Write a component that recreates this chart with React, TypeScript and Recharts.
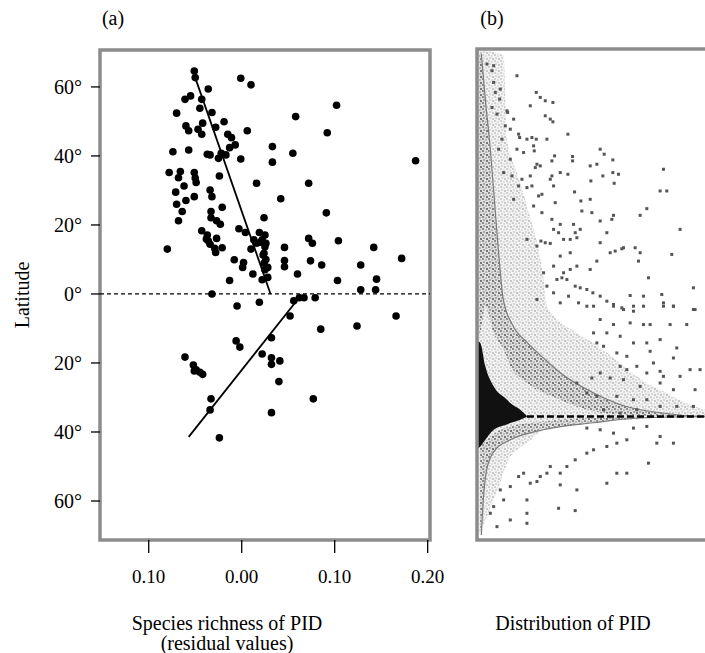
import {
  ComposedChart,
  Scatter,
  Line,
  Area,
  XAxis,
  YAxis,
  ReferenceLine,
  ReferenceArea,
} from "recharts";

// panel (a): residual species richness of PID against latitude
const northSites: [number, number][] = [
  [-0.051, 64.6], [-0.05, 62.7], [-0.001, 62.5], [0.01, 60.6], [-0.036, 59.4],
  [-0.061, 56.4], [-0.055, 57.4], [-0.043, 56.4], [0.102, 54.7], [-0.045, 53.8],
  [-0.07, 52.4], [-0.032, 52.6], [0.058, 51.4], [-0.019, 49.9], [-0.042, 49.5],
  [-0.06, 48.7], [-0.028, 48.3], [-0.057, 47.3], [-0.047, 47.7], [-0.043, 46.3],
  [0.006, 47.3], [0.092, 46.7], [-0.015, 46.3], [-0.011, 45.3], [-0.007, 43.2],
  [-0.013, 42.4], [0.033, 42.7], [-0.074, 41.2], [-0.057, 41.7], [-0.037, 40.5],
  [-0.034, 40.3], [-0.025, 39.3], [-0.022, 40.8], [-0.017, 40.3], [-0.001, 39.1],
  [0.055, 40.8], [0.033, 38.2], [0.187, 38.6], [-0.078, 35.2], [-0.066, 35.5],
  [-0.068, 33.7], [-0.051, 35.2], [-0.05, 33.6], [-0.049, 32.3], [-0.062, 31.3],
  [-0.024, 34.2], [0.016, 32.1], [0.072, 32.1], [-0.071, 29.5], [-0.034, 30.1],
  [-0.032, 28.2], [-0.051, 28.2], [-0.06, 27.1], [0.042, 27.6], [-0.07, 26.0],
  [-0.064, 23.9], [-0.021, 25.1], [-0.033, 23.9], [-0.068, 21.2], [-0.033, 22.1],
  [-0.027, 21.2], [-0.023, 20.2], [0.024, 22.1], [0.091, 23.5], [-0.043, 18.3],
  [-0.037, 17.1], [-0.038, 15.9], [-0.003, 18.9], [0.004, 17.8], [-0.036, 15.4],
  [-0.027, 16.1], [0.013, 15.7], [0.019, 17.8], [0.025, 17.1], [0.022, 15.7],
  [0.026, 14.7], [0.016, 14.7], [-0.034, 14.4], [-0.029, 13.2], [-0.028, 12.0],
  [-0.021, 13.4], [-0.08, 13.0], [0.01, 13.0], [0.02, 15.0], [0.025, 13.7],
  [0.024, 11.8], [0.046, 13.5], [0.072, 16.1], [0.076, 14.7], [0.104, 15.4],
  [0.142, 13.5], [-0.008, 9.9], [0.002, 9.1], [0.001, 7.7], [0.012, 5.8],
  [0.023, 11.3], [0.026, 10.0], [0.024, 8.9], [0.025, 7.0], [0.028, 7.7],
  [0.046, 9.7], [0.046, 7.9], [0.06, 5.8], [0.074, 9.6], [0.086, 8.4],
  [0.128, 8.4], [0.172, 10.3], [-0.013, 3.9], [0.022, 4.1], [0.028, 4.8],
  [0.103, 3.9], [0.145, 4.3], [0.128, 1.2], [0.144, 1.2], [-0.032, 0.0],
];

const southSites: [number, number][] = [
  [-0.005, -3.5], [0.019, -2.4], [0.056, -2.0], [0.062, -1.1], [0.067, -1.1],
  [0.079, -1.1], [0.052, -6.4], [0.166, -6.4], [0.085, -10.2], [0.124, -9.3],
  [0.032, -12.7], [-0.006, -13.6], [-0.002, -15.4], [-0.061, -18.3], [-0.052, -20.6],
  [-0.049, -22.0], [-0.045, -22.7], [-0.042, -23.3], [-0.051, -22.3], [0.022, -17.4],
  [0.032, -18.5], [0.032, -20.4], [0.041, -19.4], [0.04, -25.4], [-0.033, -30.4],
  [-0.034, -33.6], [0.032, -34.4], [0.077, -30.4], [-0.024, -41.7],
];

const northFit: [number, number][] = [[-0.05, 62.7], [0.031, 0]];
const southFit: [number, number][] = [[-0.057, -41.4], [0.064, -0.3]];

const latTicks = [60, 40, 20, 0, -20, -40, -60];
const richTicks = [-0.1, 0, 0.1, 0.2];

// panel (b): distribution of PID (unitless plot space, no axes shown)
const upperCurve: [number, number][] = [
  [13, 1455], [25, 1320], [40, 1170], [52, 1020], [64, 870], [79, 720], [106, 645],
  [151, 591], [205, 540], [250, 501], [349, 441], [451, 399], [550, 381], [685, 369], [850, 366],
];
const lowerCurve: [number, number][] = [
  [13, 15], [19, 120], [31, 219], [55, 270], [100, 300], [199, 330], [349, 351],
  [499, 366], [685, 369], [850, 369],
];
// [x, low, high]
const lightBand: [number, number, number][] = [
  [4, 10, 1470], [50, 120, 1460], [80, 200, 1450], [90, 230, 1200], [120, 270, 1100],
  [150, 290, 1000], [200, 330, 780], [210, 333, 700], [300, 345, 620], [350, 355, 590],
  [510, 363, 470], [550, 367, 450], [685, 369, 390], [850, 369, 372],
];
const upperMidBand: [number, number, number][] = [
  [4, 590, 1470], [15, 650, 1420], [25, 700, 1320], [50, 620, 1000], [80, 570, 720],
  [100, 520, 650], [150, 470, 591], [200, 440, 545], [250, 420, 501], [300, 400, 470],
  [350, 385, 441], [450, 375, 399], [550, 372, 381], [685, 370, 370],
];
const lowerMidBand: [number, number, number][] = [
  [10, 20, 280], [30, 219, 300], [55, 270, 320], [100, 300, 340], [200, 330, 355],
  [350, 351, 365], [500, 366, 369], [685, 369, 370],
];
const denseCore: [number, number, number][] = [
  [3, 275, 595], [10, 280, 590], [25, 300, 520], [50, 330, 460], [90, 346, 420],
  [100, 350, 410], [130, 360, 390], [150, 369, 371],
];
const scatterPID: [number, number][] = [
  [30, 1425], [50, 1420], [45, 1405], [50, 1370], [55, 1340], [70, 1350], [68, 1320],
  [45, 1295], [60, 1275], [90, 1285],
  [120, 1390], [178, 1340], [190, 1325], [205, 1315], [228, 1310], [160, 1300], [205, 1270],
  [220, 1260], [228, 1252], [273, 1215], [92, 1280], [110, 1260], [85, 1240], [100, 1230],
  [125, 1215], [128, 1205], [150, 1200], [165, 1205], [178, 1200], [210, 1200], [75, 1200],
  [65, 1170], [120, 1170], [140, 1160], [170, 1180], [172, 1165], [370, 1170], [382, 1155],
  [287, 1148], [287, 1135], [233, 1150], [225, 1135], [408, 1138], [360, 1125], [180, 1125],
  [190, 1120], [175, 1115], [340, 1120], [100, 1140], [160, 1090], [225, 1090], [220, 1080],
  [250, 1100], [273, 1095], [408, 1100], [425, 1095], [412, 1068], [342, 1075], [378, 1090],
  [560, 1110], [80, 1100], [105, 1090], [135, 1080], [125, 1060], [150, 1055], [165, 1060],
  [110, 1020], [185, 1030], [195, 1035], [293, 1042], [230, 1060], [550, 1045], [570, 1045],
  [170, 1000], [195, 980], [235, 1010], [312, 1015], [340, 1020], [315, 985], [345, 980],
  [510, 992], [490, 972], [410, 972], [405, 960], [370, 955], [290, 945], [310, 930],
  [295, 920], [300, 905], [250, 945], [225, 960], [230, 930], [245, 920], [260, 900],
  [280, 900], [192, 895], [205, 890], [220, 888], [150, 900], [180, 880], [390, 920],
  [370, 890], [400, 860], [415, 865], [435, 872], [440, 875], [475, 875], [490, 860],
  [485, 835], [610, 930], [585, 855], [280, 860], [250, 850], [360, 835], [340, 810],
  [300, 820], [280, 810], [260, 800], [230, 820], [240, 780], [255, 785], [270, 780],
  [295, 760], [310, 755], [330, 750], [348, 740], [370, 730], [390, 715], [410, 700],
  [435, 695], [460, 732], [500, 730], [470, 700], [515, 785], [555, 735], [560, 700],
  [590, 700], [650, 755], [655, 690], [200, 800], [210, 760], [230, 740], [250, 710],
  [275, 730], [305, 710], [330, 700], [180, 720], [350, 700], [410, 705], [440, 690],
  [470, 685], [500, 700], [560, 710], [590, 700], [650, 690], [370, 660], [410, 645],
  [460, 650], [500, 645], [520, 645], [580, 645], [630, 645], [350, 620], [390, 620],
  [430, 610], [470, 590], [510, 590], [550, 600], [600, 575], [360, 590], [380, 580],
  [420, 560], [450, 550], [520, 565], [590, 545], [670, 510], [640, 510], [430, 520],
  [450, 510], [480, 520], [530, 530], [550, 505], [510, 500], [560, 490], [610, 490],
  [655, 450], [590, 450], [550, 470], [490, 460], [440, 480], [400, 485], [370, 500],
  [345, 485], [300, 470], [330, 440], [360, 430], [420, 430], [470, 420], [510, 420],
  [550, 400], [600, 400], [650, 400], [380, 390], [430, 380], [480, 390], [330, 335],
  [370, 330], [410, 320], [470, 335], [510, 340], [550, 310], [590, 290], [540, 290],
  [450, 300], [420, 290], [390, 280], [350, 270], [330, 260], [295, 240], [270, 220],
  [250, 200], [220, 220], [210, 200], [190, 190], [180, 175], [160, 170], [140, 200],
  [125, 190], [100, 160], [80, 120], [150, 120], [150, 80], [150, 50], [100, 60],
  [245, 95], [295, 88], [300, 150], [250, 165], [420, 200], [450, 200], [390, 170],
  [515, 230], [70, 150], [50, 100], [40, 80], [60, 40],
];

const FONT = "'Liberation Serif', 'Times New Roman', serif";
const FRAME = "#8c8c8c";

const toXY = (rows: [number, number][]) => rows.map(([x, y]) => ({ x, y }));
const toBand = (rows: [number, number, number][]) =>
  rows.map(([x, lo, hi]) => ({ x, band: [lo, hi] }));

const BigDot = (p: any) => <circle cx={p.cx} cy={p.cy} r={3.8} fill="#000" />;
const Speck = (p: any) => (
  <rect x={p.cx - 1.5} y={p.cy - 1.5} width={3} height={3} fill="#555" />
);

const xDom: [number, number] = [-0.1524, 0.2025];
const yDom: [number, number] = [-71.3, 70.7];

function PanelA() {
  return (
    <ComposedChart width={460} height={653} margin={{ top: 50, right: 30, bottom: 73, left: 40 }}>
      <XAxis
        type="number"
        dataKey="x"
        domain={xDom}
        ticks={richTicks}
        allowDataOverflow
        tickFormatter={(v: number) => Math.abs(v).toFixed(2)}
        axisLine={false}
        tickSize={13}
        tickMargin={17}
        height={40}
        tickLine={{ stroke: "#000", strokeWidth: 1.3 }}
        tick={{ fill: "#000", fontSize: 19, fontFamily: FONT }}
      />
      <YAxis
        type="number"
        dataKey="y"
        domain={yDom}
        ticks={latTicks}
        allowDataOverflow
        tickFormatter={(v: number) => `${Math.abs(v)}°`}
        axisLine={false}
        tickSize={9}
        tickMargin={9}
        width={60}
        tickLine={{ stroke: "#000", strokeWidth: 1.3 }}
        tick={{ fill: "#000", fontSize: 20, fontFamily: FONT }}
      />
      <ReferenceArea
        x1={xDom[0]} x2={xDom[1]} y1={yDom[0]} y2={yDom[1]}
        fill="none" fillOpacity={0} stroke={FRAME} strokeWidth={3.5} ifOverflow="visible"
      />
      <ReferenceLine y={0} stroke="#000" strokeWidth={1.3} strokeDasharray="4 3" />
      <Scatter data={toXY(northSites)} shape={BigDot} isAnimationActive={false} />
      <Scatter data={toXY(southSites)} shape={BigDot} isAnimationActive={false} />
      <Line data={toXY(northFit)} dataKey="y" type="linear" stroke="#000" strokeWidth={1.8} dot={false} activeDot={false} isAnimationActive={false} />
      <Line data={toXY(southFit)} dataKey="y" type="linear" stroke="#000" strokeWidth={1.8} dot={false} activeDot={false} isAnimationActive={false} />
    </ComposedChart>
  );
}

function PanelB() {
  return (
    <ComposedChart width={340} height={653} margin={{ top: 49, right: 20, bottom: 113, left: 37 }}>
      <defs>
        <pattern id="specLight" width="6" height="6" patternUnits="userSpaceOnUse">
          <rect x="0" y="0" width="6" height="6" fill="#f3f3f3" />
          <rect x="0" y="0" width="2" height="2" fill="#d0d0d0" />
          <rect x="3" y="1" width="2" height="2" fill="#dedede" />
          <rect x="1" y="3" width="2" height="2" fill="#d8d8d8" />
          <rect x="4" y="4" width="2" height="2" fill="#c8c8c8" />
        </pattern>
        <pattern id="specMid" width="6" height="6" patternUnits="userSpaceOnUse">
          <rect x="0" y="0" width="6" height="6" fill="#e0e0e0" />
          <rect x="0" y="0" width="2" height="2" fill="#8c8c8c" />
          <rect x="3" y="1" width="2" height="2" fill="#b8b8b8" />
          <rect x="1" y="3" width="2" height="2" fill="#a6a6a6" />
          <rect x="4" y="4" width="2" height="2" fill="#777" />
        </pattern>
      </defs>
      <XAxis type="number" dataKey="x" domain={[0, 850]} allowDataOverflow hide />
      <YAxis type="number" dataKey="y" domain={[0, 1470]} allowDataOverflow hide />
      <Area data={toBand(lightBand)} dataKey="band" type="monotone" stroke="none" fill="url(#specLight)" fillOpacity={1} isAnimationActive={false} />
      <Area data={toBand(upperMidBand)} dataKey="band" type="monotone" stroke="none" fill="url(#specMid)" fillOpacity={1} isAnimationActive={false} />
      <Area data={toBand(lowerMidBand)} dataKey="band" type="monotone" stroke="none" fill="url(#specMid)" fillOpacity={1} isAnimationActive={false} />
      <Area data={toBand(denseCore)} dataKey="band" type="monotone" stroke="none" fill="#111" fillOpacity={1} isAnimationActive={false} />
      <Scatter data={toXY(scatterPID)} shape={Speck} isAnimationActive={false} />
      <Line data={toXY(upperCurve)} dataKey="y" type="monotone" stroke="#7a7a7a" strokeWidth={1.2} dot={false} activeDot={false} isAnimationActive={false} />
      <Line data={toXY(lowerCurve)} dataKey="y" type="monotone" stroke="#7a7a7a" strokeWidth={1.2} dot={false} activeDot={false} isAnimationActive={false} />
      <ReferenceLine
        segment={[{ x: 150, y: 370 }, { x: 850, y: 370 }]}
        stroke="#000" strokeWidth={2.5} strokeDasharray="7 3" ifOverflow="visible"
      />
      <ReferenceArea
        x1={0} x2={850} y1={0} y2={1470}
        fill="none" fillOpacity={0} stroke={FRAME} strokeWidth={3.5} ifOverflow="visible"
      />
    </ComposedChart>
  );
}

const label = { position: "absolute" as const, fontFamily: FONT, fontSize: 20, color: "#000", textAlign: "center" as const, whiteSpace: "nowrap" as const };

export default function App() {
  return (
    <div style={{ position: "absolute", left: 0, top: 0, width: 705, height: 653, overflow: "hidden", background: "#fff" }}>
      <div style={{ position: "absolute", left: 0, top: 0 }}>
        <PanelA />
      </div>
      <div style={{ position: "absolute", left: 440, top: 0 }}>
        <PanelB />
      </div>
      <div style={{ ...label, left: 93, top: 6, width: 40, lineHeight: "24px" }}>(a)</div>
      <div style={{ ...label, left: 472, top: 6, width: 40, lineHeight: "24px" }}>(b)</div>
      <div
        style={{
          ...label, left: 22, top: 295, lineHeight: "24px",
          transform: "translate(-50%, -50%) rotate(-90deg)",
        }}
      >
        Latitude
      </div>
      <div style={{ ...label, left: 77, top: 613, width: 300, lineHeight: "20px" }}>
        Species richness of PID
      </div>
      <div style={{ ...label, left: 77, top: 633, width: 300, lineHeight: "20px" }}>
        (residual values)
      </div>
      <div style={{ ...label, left: 473, top: 613, width: 200, lineHeight: "20px" }}>
        Distribution of PID
      </div>
    </div>
  );
}
